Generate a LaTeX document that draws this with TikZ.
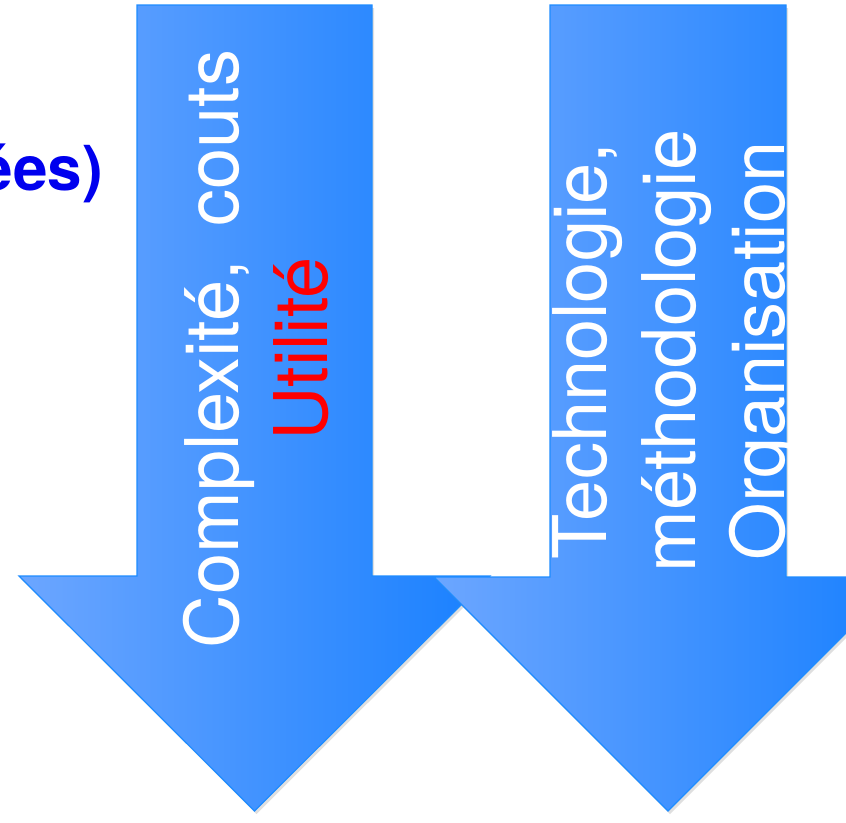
\documentclass[tikz,border=0pt]{standalone}
\usepackage{fontspec}
\setmainfont{TeX Gyre Heros}
\usepackage{xcolor}
\usetikzlibrary{shadows}

\definecolor{arrowlight}{RGB}{108,166,255}
\definecolor{arrowdark}{RGB}{24,128,255}
\definecolor{arrowrim}{RGB}{30,140,255}
\definecolor{titleblue}{RGB}{0,0,238}

\begin{document}
\begin{tikzpicture}[x=1pt, y=-1pt,
  bigarrow/.style={draw=arrowrim, line width=1.2pt, left color=arrowlight, right color=arrowdark,
    drop shadow={shadow xshift=2pt, shadow yshift=-3pt, opacity=0.25}},
  vtext/.style={rotate=90, align=center, text=white, inner sep=0pt, font=\fontsize{74}{89}\selectfont}]
\useasboundingbox (0,0) rectangle (846,822);

% cut-off title on the left
\node[font=\fontsize{62}{70}\selectfont\bfseries, text=titleblue, anchor=base east, inner sep=0pt] (titre) at (103,190) {ées)};

% the two big arrows, the right one lies on top
\path[bigarrow] (137,5) -- (372,5) -- (372,576) -- (490,576) -- (254.5,811) -- (19,576) -- (137,576) -- cycle;
\path[bigarrow] (550,5) -- (786,5) -- (786,577) -- (902,577) -- (668,811) -- (434,577) -- (550,577) -- cycle;

\node[vtext] (charge) at (256,349) {Complexité,\hspace{0.45em}couts\\\textcolor{red}{Utilité}};
\node[vtext] (moyens) at (677,351) {Technologie,\\méthodologie\\Organisation};
\end{tikzpicture}
\end{document}
